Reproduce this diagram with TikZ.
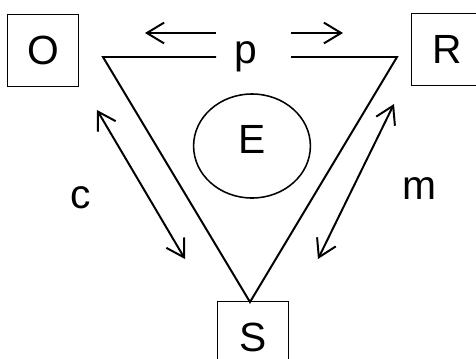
\documentclass[tikz,border=0pt]{standalone}
\usepackage{fontspec}
\setmainfont{Liberation Sans}
\usetikzlibrary{arrows.meta, shapes.geometric}

\begin{document}
\begin{tikzpicture}[
  x=0.025cm, y=-0.025cm,
  agentbox/.style={
    rectangle, draw=black, line width=0.7pt,
    minimum width=1.75cm, minimum height=1.8cm,
    inner sep=0pt, font=\fontsize{29}{32}\selectfont
  },
  envnode/.style={
    ellipse, draw=black, line width=1.1pt,
    minimum width=2.92cm, minimum height=2.6cm,
    inner sep=0pt, text depth=10pt,
    font=\fontsize{29}{32}\selectfont
  },
  lbl/.style={font=\fontsize{29}{32}\selectfont, inner sep=0pt, anchor=base},
  sideline/.style={draw=black, line width=1.4pt, line join=miter},
  flowarrow/.style={
    draw=black, line width=1.4pt,
    -{Straight Barb[length=4.3mm, width=5.2mm, line width=1.4pt]}
  },
  twoway/.style={
    draw=black, line width=1.4pt,
    {Straight Barb[length=4.3mm, width=5.2mm, line width=1.4pt]}-{Straight Barb[length=4.3mm, width=5.2mm, line width=1.4pt]}
  },
]

%% ================================================================
%% FRAME
%% ================================================================
\useasboundingbox (0,0) rectangle (476,358);

%% ================================================================
%% CORNER BOXES
%% ================================================================
\node[agentbox] (o) at (43,50)  {O};
\node[agentbox] (r) at (447,49) {R};
\node[agentbox] (s) at (253,337) {S};

% Environment in the middle
\node[envnode] (e) at (252,146) {E};

%% ================================================================
%% TRIANGLE
%% ================================================================
\coordinate (tl) at (103,57);
\coordinate (tr) at (397,57);
\coordinate (bt) at (250,302);
\coordinate (gapl) at (216,57);
\coordinate (gapr) at (291,57);

\draw[sideline] (gapl) -- (tl) -- (bt) -- (tr) -- (gapr);
\node[lbl] (p) at (246,63) {p};

%% ================================================================
%% ARROWS
%% ================================================================
% top pair
\coordinate (pla) at (216,33);
\coordinate (plb) at (145,33);
\coordinate (pra) at (291,33);
\coordinate (prb) at (343,33);
\draw[flowarrow] (pla) -- (plb);
\draw[flowarrow] (pra) -- (prb);

% left side: c
\coordinate (ca) at (97,110);
\coordinate (cb) at (185,259);
\draw[twoway] (ca) -- (cb);
\node[lbl] (c) at (81,208) {c};

% right side: m
\coordinate (ma) at (394,104);
\coordinate (mb) at (318,259);
\draw[twoway] (ma) -- (mb);
\node[lbl] (m) at (419,199) {m};

\end{tikzpicture}
\end{document}
